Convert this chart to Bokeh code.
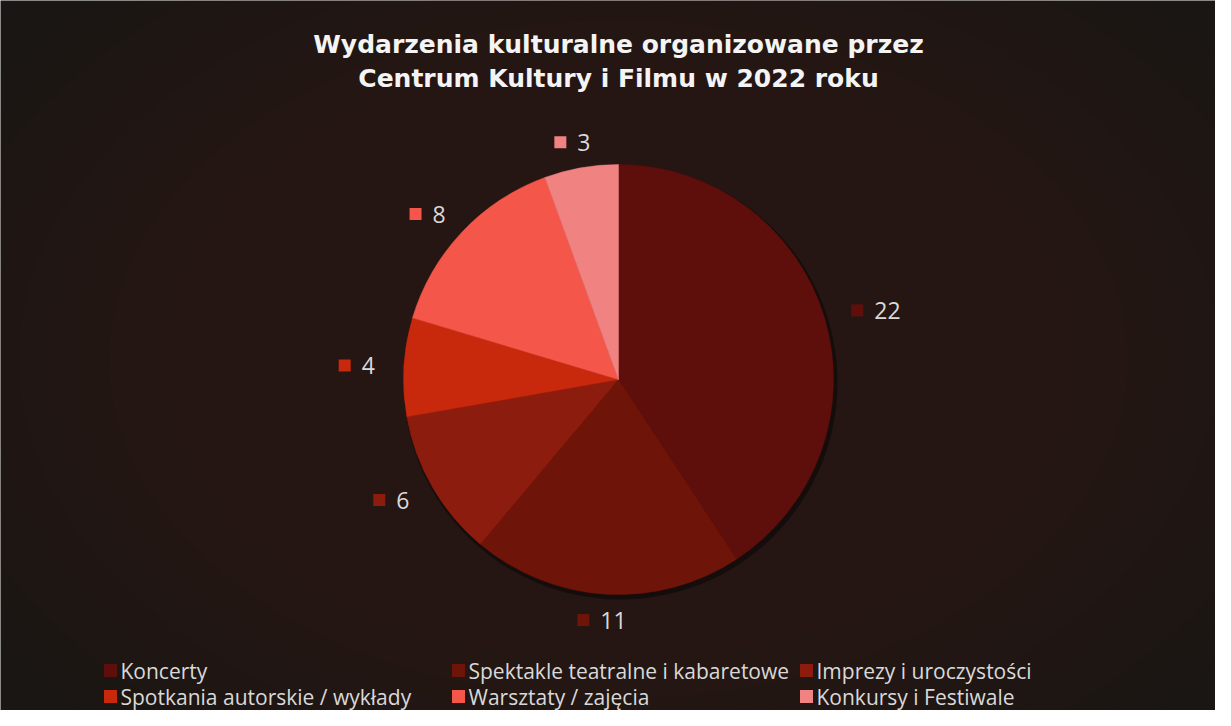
import numpy as np
from bokeh.plotting import figure
from bokeh.models import Range1d, ColumnDataSource
from bokeh.core.properties import value
from bokeh.embed import file_html
from bokeh.resources import INLINE

# ---------------- data ----------------
title_lines = ["Wydarzenia kulturalne organizowane przez",
               "Centrum Kultury i Filmu w 2022 roku"]
categories = ["Koncerty",
              "Spektakle teatralne i kabaretowe",
              "Imprezy i uroczystości",
              "Spotkania autorskie / wykłady",
              "Warsztaty / zajęcia",
              "Konkursy i Festiwale"]
values = [22, 11, 6, 4, 8, 3]
colors = ["#5F0F0B", "#6F1409", "#8C1D0E", "#C8290D", "#F4574A", "#F08282"]

# ---------------- layout ----------------
W, H = 1215, 710
BG = "#1a1613"
FONT = "Open Sans"

p = figure(width=W, height=H, x_range=Range1d(0, W), y_range=Range1d(0, H),
           output_backend="svg", toolbar_location=None, min_border=0,
           x_axis_location=None, y_axis_location=None)
p.grid.visible = False
p.outline_line_color = None
p.background_fill_color = BG
p.border_fill_color = BG

# pie geometry (pixel-like data units)
cx, cy, R = 618, 331, 215

# soft vignette: lighter toward the chart centre
for k in range(22):
    s = 1.0 - k * 0.04
    p.ellipse(x=cx, y=cy + 20, width=1500 * s, height=1000 * s,
              fill_color="#3b3633", fill_alpha=0.026, line_color=None)

vals = np.array(values, dtype=float)
total = vals.sum()
cum = np.cumsum(vals)
start = np.pi / 2 - 2 * np.pi * (cum - vals) / total
end = np.pi / 2 - 2 * np.pi * cum / total
mid = np.pi / 2 - 2 * np.pi * (cum - vals / 2) / total

# faint shadow under the pie
p.circle(x=cx + 2, y=cy - 3, radius=R + 2, radius_units="screen",
         fill_color="#0c0807", fill_alpha=0.6, line_color=None)

pie_src = ColumnDataSource(dict(start=start, end=end, color=colors, cat=categories, val=values))
p.wedge(x=cx, y=cy, radius=R, start_angle="start", end_angle="end",
        direction="clock", fill_color="color", line_color="color", line_width=0.5,
        source=pie_src)

# data labels (marker + value), placed outside along the slice's mid-angle
g = 24
msize = 12
lab_mx, lab_my, lab_tx, lab_ty, lab_txt = [], [], [], [], []
for v, a in zip(values, mid):
    ux, uy = np.cos(a), np.sin(a)
    txt = str(v)
    w = msize + 12 + len(txt) * 13.5
    h = 4
    bx = cx + (R + g) * ux + w / 2 * ux * 1.2
    by = cy + (R + g) * uy + h / 2 * uy
    left = bx - w / 2
    lab_mx.append(left + msize / 2)
    lab_my.append(by)
    lab_tx.append(left + msize + 11)
    lab_ty.append(by)
    lab_txt.append(txt)

p.scatter(x=lab_mx, y=lab_my, marker="square", size=msize,
          fill_color=colors, line_color=None)
p.text(x=lab_tx, y=lab_ty, text=lab_txt, text_font=value(FONT), text_font_size="23px",
       text_color="#d9d9d9", text_align="left", text_baseline="middle")

# title
p.text(x=[618, 618], y=[666, 632], text=title_lines, text_font=value("DejaVu Sans"),
       text_font_size="25px", text_font_style="bold", text_color="#f4f4f4",
       text_align="center", text_baseline="middle")

# legend (3 columns, 2 rows)
col_x0, col_dx = 110, 348
row_y0, row_dy = 40, 26
leg_mx, leg_my, leg_tx = [], [], []
for i, c in enumerate(categories):
    col, row = i % 3, i // 3
    mx = col_x0 + col * col_dx
    my = row_y0 - row * row_dy
    leg_mx.append(mx)
    leg_my.append(my)
    leg_tx.append(mx + 10)
p.scatter(x=leg_mx, y=leg_my, marker="square", size=13, fill_color=colors, line_color=None)
p.text(x=leg_tx, y=leg_my, text=categories, text_font=value(FONT), text_font_size="21px",
       text_color="#d9d9d9", text_align="left", text_baseline="middle")

open("out.html", "w").write(file_html(p, INLINE))
